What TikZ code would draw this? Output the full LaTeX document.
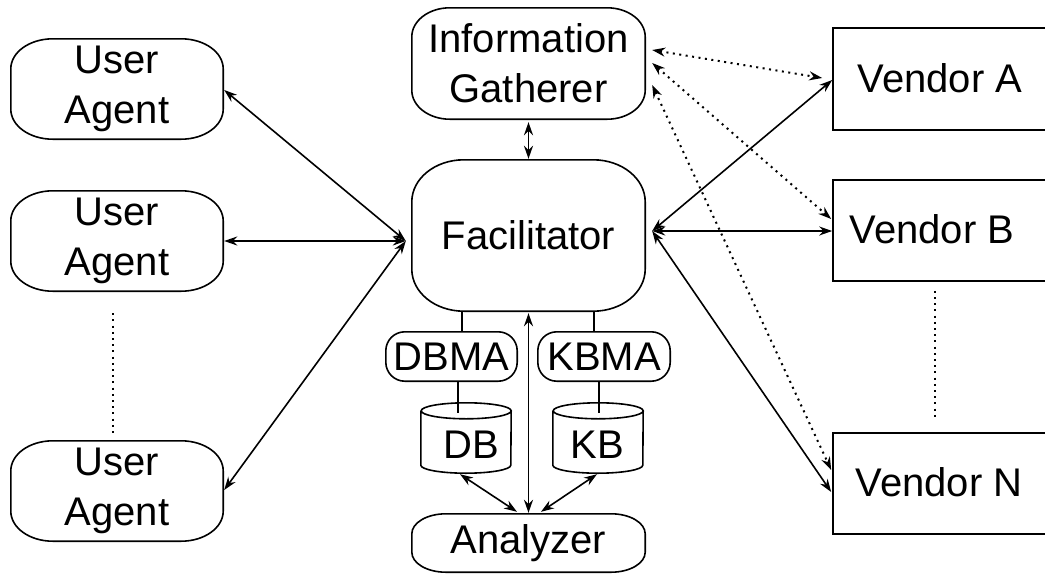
\documentclass[tikz,border=0pt]{standalone}
\usepackage{fontspec}
\setmainfont{Liberation Sans}
\usetikzlibrary{arrows.meta}
\tikzset{
  ln/.style={line width=1.6pt},
  big/.style={font=\fontsize{40}{50}\selectfont},
  rbox/.style={big, align=center, inner sep=0pt},
  vbox/.style={draw, ln, rectangle, inner sep=0pt, minimum width=227pt},
  arr/.style={ln, {Stealth[length=13pt,width=9pt]}-{Stealth[length=13pt,width=9pt]}},
  dotarr/.style={arr, line width=2pt, dash pattern=on 2pt off 4.5pt},
  dotline/.style={line width=2pt, dash pattern=on 2pt off 4.2pt},
}
\newcommand\eboxdraw[3]{%
  \draw[ln] ([xshift=#2]#1.north west) -- ([xshift=-#2]#1.north east)
    arc[start angle=90, end angle=0, x radius=#2, y radius=#3]
    -- ([yshift=#3]#1.south east)
    arc[start angle=0, end angle=-90, x radius=#2, y radius=#3]
    -- ([xshift=#2]#1.south west)
    arc[start angle=270, end angle=180, x radius=#2, y radius=#3]
    -- ([yshift=-#3]#1.north west)
    arc[start angle=180, end angle=90, x radius=#2, y radius=#3] -- cycle;}
\begin{document}
\begin{tikzpicture}[x=1pt,y=1pt]
\useasboundingbox (0,0) rectangle (1045,-574);
% user agents
\node[rbox, minimum width=212pt, minimum height=100pt] (ua1) at (117,-89) {User\\Agent};
\node[rbox, minimum width=212pt, minimum height=100pt] (ua2) at (117,-241) {User\\Agent};
\node[rbox, minimum width=212pt, minimum height=100pt] (ua3) at (117,-491) {User\\Agent};
\eboxdraw{ua1}{42pt}{30pt}
\eboxdraw{ua2}{42pt}{30pt}
\eboxdraw{ua3}{42pt}{30pt}
% center column
\node[rbox, minimum width=233pt, minimum height=111pt] (ig) at (528.5,-63.5) {Information\\Gatherer};
\node[rbox, minimum width=233pt, minimum height=151pt] (fac) at (528.5,-235.5) {Facilitator};
\node[rbox, minimum width=131pt, minimum height=49pt] (dbma) at (451.5,-356.5) {DBMA};
\node[rbox, minimum width=132pt, minimum height=49pt] (kbma) at (604,-356.5) {KBMA};
\node[rbox, minimum width=233pt, minimum height=58pt] (ana) at (528.5,-543) {Analyzer};
\eboxdraw{ig}{38pt}{29pt}
\eboxdraw{fac}{52pt}{42pt}
\eboxdraw{dbma}{19pt}{19pt}
\eboxdraw{kbma}{19pt}{19pt}
\eboxdraw{ana}{34pt}{20pt}
% cylinders
\node[inner sep=0pt, minimum width=90pt, minimum height=70pt] (db) at (466,-438) {};
\node[inner sep=0pt, minimum width=90pt, minimum height=70pt] (kb) at (598,-438) {};
\draw[ln] ([yshift=-8pt]db.north west) -- ([yshift=8pt]db.south west)
  arc[start angle=180, end angle=360, x radius=45pt, y radius=8pt]
  -- ([yshift=-8pt]db.north east)
  arc[start angle=0, end angle=360, x radius=45pt, y radius=8pt];
\draw[ln] ([yshift=-8pt]kb.north west) -- ([yshift=8pt]kb.south west)
  arc[start angle=180, end angle=360, x radius=45pt, y radius=8pt]
  -- ([yshift=-8pt]kb.north east)
  arc[start angle=0, end angle=360, x radius=45pt, y radius=8pt];
\node[big, anchor=base, inner sep=0pt] (dbt) at (471,-458) {DB};
\node[big, anchor=base, inner sep=0pt] (kbt) at (597.5,-458) {KB};
% vendors
\node[vbox, minimum height=102pt] (vA) at (946.5,-79) {};
\node[vbox, minimum height=101pt] (vB) at (946.5,-230.5) {};
\node[vbox, minimum height=101pt] (vN) at (946.5,-483.5) {};
\node[big, anchor=base, inner sep=0pt] (vAt) at (940,-92) {Vendor A};
\node[big, anchor=base, inner sep=0pt] (vBt) at (932,-243) {Vendor B};
\node[big, anchor=base, inner sep=0pt] (vNt) at (939,-496) {Vendor N};
% plain connectors
\draw[ln] ([xshift=-66.5pt]fac.south) -- ([xshift=10.5pt]dbma.north);
\draw[ln] ([xshift=65.5pt]fac.south) -- ([xshift=-10pt]kbma.north);
\draw[ln] ([xshift=6.5pt]dbma.south) -- ([xshift=-8pt,yshift=-10pt]db.north);
\draw[ln] ([xshift=-5pt]kbma.south) -- ([xshift=1pt,yshift=-10pt]kb.north);
% arrows left
\coordinate (fL) at ([xshift=-6pt,yshift=-5.5pt]fac.west);
\coordinate (fR) at ([xshift=7pt,yshift=4.5pt]fac.east);
\draw[arr] ([xshift=1pt,yshift=-1pt]ua1.east) -- (fL);
\draw[arr] ([xshift=1pt]ua2.east) -- (fL);
\draw[arr] ([xshift=1pt,yshift=1pt]ua3.east) -- (fL);
% arrows right
\draw[arr] (fR) -- ([yshift=-1pt]vA.west);
\draw[arr] (fR) -- ([yshift=-0.5pt]vB.west);
\draw[arr] (fR) -- ([xshift=-1pt,yshift=-8.5pt]vN.west);
% dotted arrows
\draw[dotarr] ([xshift=7pt,yshift=13.5pt]ig.east) -- ([xshift=-10pt,yshift=1pt]vA.west);
\draw[dotarr] ([xshift=7pt,yshift=0.5pt]ig.east) -- ([xshift=-1pt,yshift=11.5pt]vB.west);
\draw[dotarr] ([xshift=7pt,yshift=-21.5pt]ig.east) -- ([xshift=-1pt,yshift=13.5pt]vN.west);
% vertical arrows
\draw[arr] ([yshift=-3pt]ig.south) -- ([yshift=1pt]fac.north);
\draw[arr] ([yshift=-2pt]fac.south) -- ([yshift=1pt]ana.north);
\draw[arr] ([xshift=-6pt,yshift=-1pt]db.south) -- ([xshift=-11.5pt,yshift=2pt]ana.north);
\draw[arr] ([xshift=-1pt,yshift=-1pt]kb.south) -- ([xshift=12.5pt,yshift=2pt]ana.north);
% ellipsis lines
\draw[dotline] ([xshift=-4pt,yshift=-22pt]ua2.south) -- ([xshift=-4pt,yshift=8pt]ua3.north);
\draw[dotline] ([xshift=-11.5pt,yshift=-9pt]vB.south) -- ([xshift=-11.5pt,yshift=13pt]vN.north);
\end{tikzpicture}
\end{document}
